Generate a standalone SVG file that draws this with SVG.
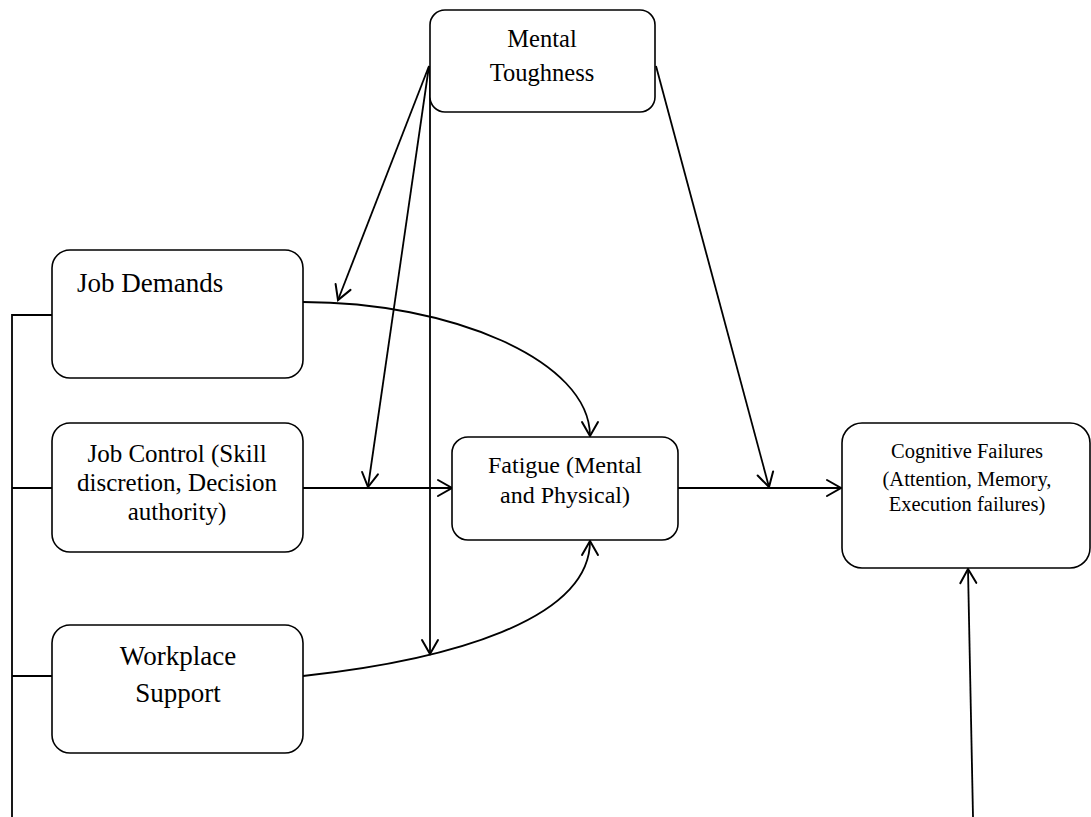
<svg xmlns="http://www.w3.org/2000/svg" width="1091" height="817" viewBox="0 0 1091 817">
  <style>
    .box { fill: #ffffff; stroke: #000000; stroke-width: 1.6; }
    .wire { fill: none; stroke: #000000; stroke-width: 1.8; }
    .lbl { font-family: "Liberation Serif", "Times New Roman", serif; fill: #000000; }
    .mid { text-anchor: middle; }
  </style>
  <defs>
    <marker id="arrow" markerUnits="userSpaceOnUse" markerWidth="20" markerHeight="20" refX="0" refY="0" viewBox="-16 -10 18 20" orient="auto" overflow="visible">
      <path d="M -14,-8 L 0,0 L -14,8" fill="none" stroke="#000000" stroke-width="2" stroke-linecap="round" stroke-linejoin="miter"/>
    </marker>
  </defs>

  <rect width="1091" height="817" fill="#ffffff"/>

  <!-- connectors -->
  <g id="connectors">
    <!-- bracket on the left joining the three job factors -->
    <path class="wire" d="M 12,817 L 12,315 L 52,315"/>
    <path class="wire" d="M 12,488 L 52,488"/>
    <path class="wire" d="M 12,676 L 52,676"/>

    <!-- job factors to fatigue -->
    <path class="wire" d="M 303,302 C 450,302 590,360 590,436" marker-end="url(#arrow)"/>
    <path class="wire" d="M 303,488 L 452,488" marker-end="url(#arrow)"/>
    <path class="wire" d="M 303,676 C 450,660 590,620 590,541" marker-end="url(#arrow)"/>

    <!-- fatigue to cognitive failures -->
    <path class="wire" d="M 678,488 L 841,488" marker-end="url(#arrow)"/>

    <!-- moderating paths from mental toughness -->
    <path class="wire" d="M 429,66 L 338,300" marker-end="url(#arrow)"/>
    <path class="wire" d="M 429,66 L 368,487" marker-end="url(#arrow)"/>
    <path class="wire" d="M 430,66 L 430,654" marker-end="url(#arrow)"/>
    <path class="wire" d="M 656,66 L 769,487" marker-end="url(#arrow)"/>

    <!-- incoming path from below -->
    <path class="wire" d="M 973,817 L 968,569" marker-end="url(#arrow)"/>
  </g>

  <g id="mental-toughness">
    <rect class="box" x="430" y="10" width="225" height="102" rx="15" ry="15"/>
    <text class="lbl mid" x="542" y="47" font-size="24.5">Mental</text>
    <text class="lbl mid" x="542" y="81" font-size="24.5">Toughness</text>
  </g>

  <g id="job-demands">
    <rect class="box" x="52" y="250" width="251" height="128" rx="18" ry="18"/>
    <text class="lbl" x="77" y="292" font-size="27">Job Demands</text>
  </g>

  <g id="job-control">
    <rect class="box" x="52" y="423" width="251" height="129" rx="18" ry="18"/>
    <text class="lbl mid" x="177" y="462" font-size="25">Job Control (Skill</text>
    <text class="lbl mid" x="177" y="491" font-size="25">discretion, Decision</text>
    <text class="lbl mid" x="177" y="520" font-size="25">authority)</text>
  </g>

  <g id="workplace-support">
    <rect class="box" x="52" y="625" width="251" height="128" rx="18" ry="18"/>
    <text class="lbl mid" x="178" y="665" font-size="27">Workplace</text>
    <text class="lbl mid" x="178" y="702" font-size="27">Support</text>
  </g>

  <g id="fatigue">
    <rect class="box" x="452" y="437" width="226" height="103" rx="16" ry="16"/>
    <text class="lbl mid" x="565" y="473" font-size="24">Fatigue (Mental</text>
    <text class="lbl mid" x="565" y="503" font-size="24">and Physical)</text>
  </g>

  <g id="cognitive-failures">
    <rect class="box" x="842" y="423" width="248" height="145" rx="20" ry="20"/>
    <text class="lbl mid" x="967" y="458" font-size="20.5">Cognitive Failures</text>
    <text class="lbl mid" x="967" y="486" font-size="20.5">(Attention, Memory,</text>
    <text class="lbl mid" x="967" y="511" font-size="20.5">Execution failures)</text>
  </g>
</svg>
